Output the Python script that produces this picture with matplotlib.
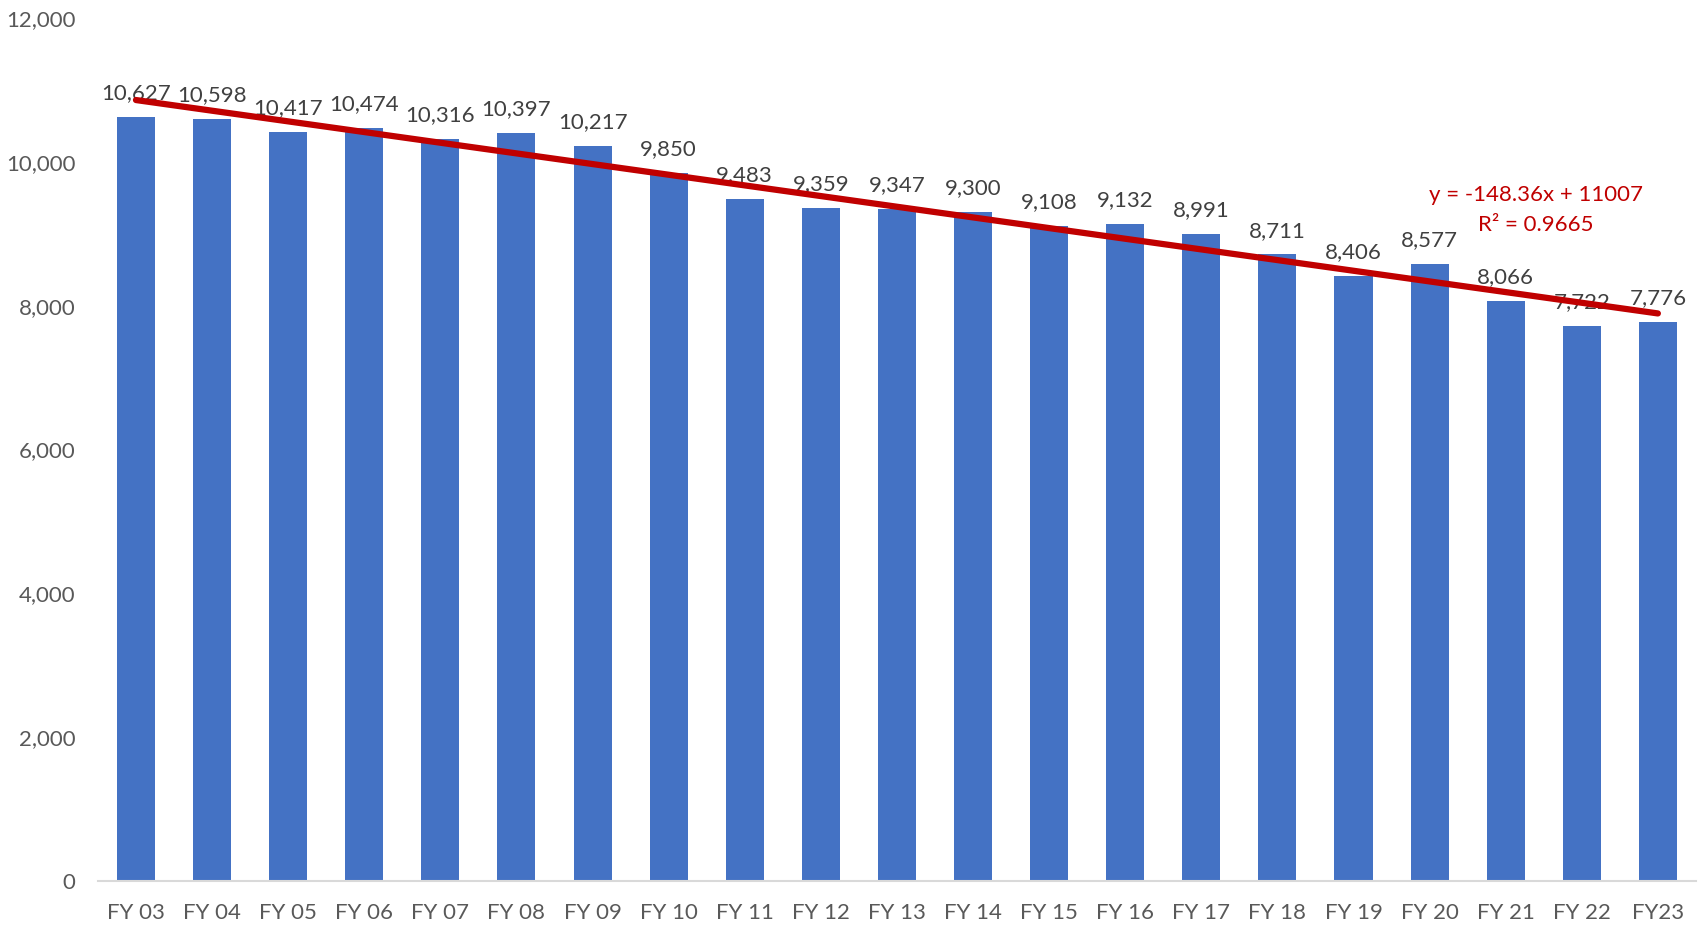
import matplotlib
matplotlib.use("Agg")
import matplotlib.pyplot as plt
import numpy as np

plt.rcParams["font.family"] = ["Lato", "DejaVu Sans"]

years = ["FY 03", "FY 04", "FY 05", "FY 06", "FY 07", "FY 08", "FY 09", "FY 10",
         "FY 11", "FY 12", "FY 13", "FY 14", "FY 15", "FY 16", "FY 17", "FY 18",
         "FY 19", "FY 20", "FY 21", "FY 22", "FY23"]
values = [10627, 10598, 10417, 10474, 10316, 10397, 10217, 9850,
          9483, 9359, 9347, 9300, 9108, 9132, 8991, 8711,
          8406, 8577, 8066, 7722, 7776]
yticks = [0, 2000, 4000, 6000, 8000, 10000, 12000]

BAR = "#4472C4"
TREND = "#C00000"
TICK = "#595959"
LABEL = "#404040"
FS = 16

fig = plt.figure(figsize=(17, 9.25), dpi=100)
ax = fig.add_axes([0.0576, 0.0476, 0.94, 0.933])

x = np.arange(len(years))
ax.bar(x, values, width=0.5, color=BAR, zorder=2)

for xi, v in zip(x, values):
    ax.annotate(f"{v:,}", (xi, v), xytext=(0, 10), textcoords="offset points",
                ha="center", va="bottom", fontsize=FS, color=LABEL, zorder=3)

# linear trendline (Excel style, x = 1..n)
xn = x + 1
slope, icpt = np.polyfit(xn, values, 1)
fit = slope * xn + icpt
ss_res = np.sum((np.array(values) - fit) ** 2)
ss_tot = np.sum((np.array(values) - np.mean(values)) ** 2)
r2 = 1 - ss_res / ss_tot
ax.plot(x, fit, color=TREND, lw=4.5, solid_capstyle="round", zorder=4)
# equation label, two lines drawn separately so they sit like Excel's
ax.text(18.4, 9540, f"y = {slope:.2f}x + {icpt:.0f}",
        ha="center", va="center", color=TREND, fontsize=FS, zorder=5)
ax.text(18.4, 9120, f"R² = {r2:.4f}",
        ha="center", va="center", color=TREND, fontsize=FS, zorder=5)

ax.set_xlim(-0.5, len(years) - 0.5)
ax.set_ylim(0, 12000)
ax.set_yticks(yticks)
ax.set_yticklabels([f"{t:,}" for t in yticks])
ax.set_xticks(x)
ax.set_xticklabels(years)
ax.tick_params(axis="both", length=0, labelsize=FS, labelcolor=TICK)
ax.tick_params(axis="x", pad=16)
ax.tick_params(axis="y", pad=16)

for s in ("top", "right", "left"):
    ax.spines[s].set_visible(False)
ax.spines["bottom"].set_color("#D9D9D9")
ax.spines["bottom"].set_linewidth(1.5)

fig.savefig("out.png", dpi=100)
